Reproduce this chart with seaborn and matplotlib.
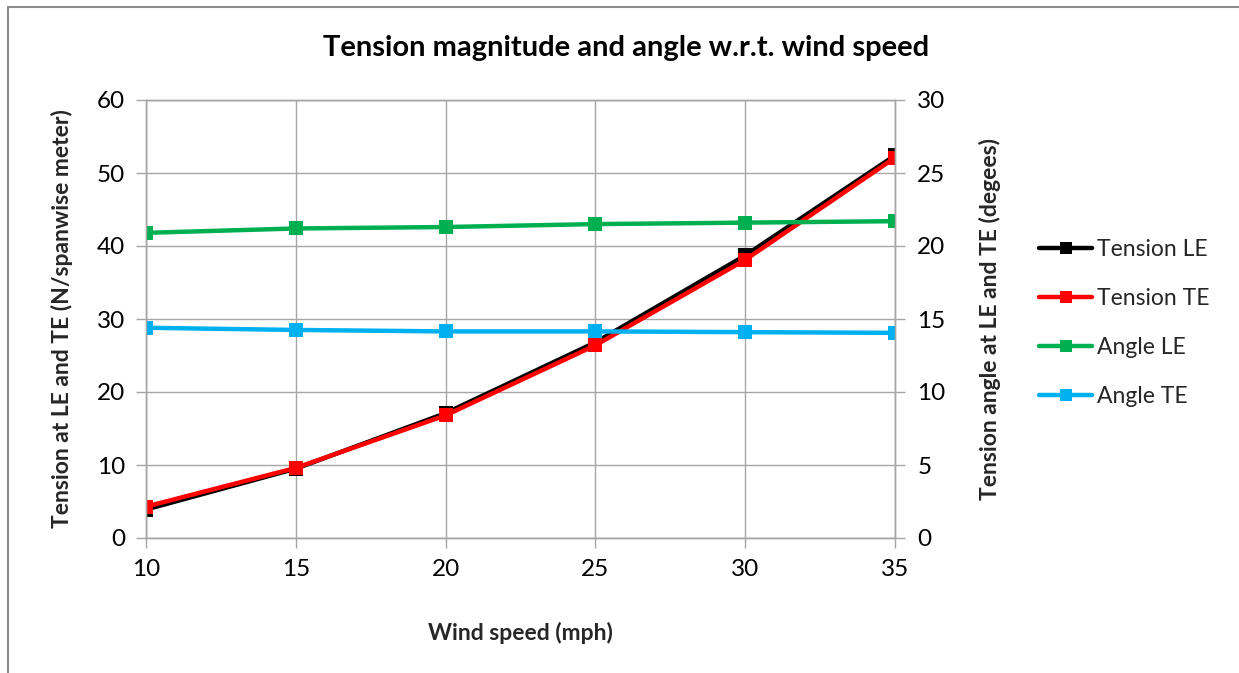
import matplotlib
matplotlib.use("Agg")
import matplotlib.pyplot as plt
import seaborn as sns
import pandas as pd
from matplotlib.lines import Line2D

wind_speed = [10, 15, 20, 25, 30, 35]
tension_le = [3.9, 9.5, 17.1, 26.8, 38.7, 52.4]
tension_te = [4.3, 9.6, 16.8, 26.4, 38.1, 52.1]
angle_le = [20.9, 21.2, 21.3, 21.5, 21.6, 21.7]
angle_te = [14.4, 14.25, 14.15, 14.15, 14.1, 14.05]

series_names = ["Tension LE", "Tension TE", "Angle LE", "Angle TE"]
colors = ["#000000", "#FF0000", "#00B050", "#00B0F0"]

sns.set_theme(style="white")
plt.rcParams["font.family"] = ["Lato", "DejaVu Sans"]

fig = plt.figure(figsize=(12.39, 6.73), dpi=100)
ax = fig.add_axes([146/1239, 1-538/673, (895-146)/1239, (538-100)/673])
ax2 = ax.twinx()

df_left = pd.DataFrame({"x": wind_speed * 2,
                        "y": tension_le + tension_te,
                        "s": [series_names[0]] * 6 + [series_names[1]] * 6})
df_right = pd.DataFrame({"x": wind_speed * 2,
                         "y": angle_le + angle_te,
                         "s": [series_names[2]] * 6 + [series_names[3]] * 6})

lw = 3.2
ms = 10
sns.lineplot(data=df_left, x="x", y="y", hue="s", palette=colors[:2], marker="s",
             markersize=ms, markeredgewidth=0, linewidth=lw, ax=ax, legend=False)
sns.lineplot(data=df_right, x="x", y="y", hue="s", palette=colors[2:], marker="s",
             markersize=ms, markeredgewidth=0, linewidth=lw, ax=ax2, legend=False)

grid_c = "#A6A6A6"
ax.set_xlim(10, 35)
ax.set_ylim(0, 60)
ax2.set_ylim(0, 30)
ax.set_xticks(wind_speed)
ax.set_yticks(range(0, 61, 10))
ax2.set_yticks(range(0, 31, 5))
ax.grid(True, color=grid_c, linewidth=1)
ax2.grid(False)
for a in (ax, ax2):
    for sp in a.spines.values():
        sp.set_color(grid_c)
        sp.set_linewidth(1)
    a.tick_params(colors="#000000", labelsize=17.5, length=7, width=1, color=grid_c,
                  direction="out")
ax.tick_params(axis="y", left=True, pad=8)
ax.tick_params(axis="x", bottom=True, pad=8)
ax2.tick_params(axis="y", right=True, pad=9)

lab_fs = 16.5
ax.set_xlabel("Wind speed (mph)", fontsize=lab_fs, fontweight="bold")
ax.set_ylabel("Tension at LE and TE (N/spanwise meter)", fontsize=lab_fs, fontweight="bold")
ax2.set_ylabel("Tension angle at LE and TE (degees)", fontsize=lab_fs, fontweight="bold")
ax.xaxis.set_label_coords((520-146)/749, (538-633)/438)
ax.xaxis.label.set_va("center")
ax.yaxis.set_label_coords((62-146)/749, 0.5)
ax.yaxis.label.set_va("center")
ax2.yaxis.set_label_coords((990-146)/749, 0.5)
ax2.yaxis.label.set_va("center")

fig.text(0.505, 1-48/673, "Tension magnitude and angle w.r.t. wind speed",
         ha="center", va="center", fontsize=21, fontweight="bold", color="#000000")

handles = [Line2D([0], [0], color=c, linewidth=lw, marker="s", markersize=ms*0.8,
                  markeredgewidth=0) for c in colors]
fig.legend(handles, series_names, loc="center left", bbox_to_anchor=(1028/1239, 1-323/673),
           frameon=False, fontsize=16.5, handlelength=2.3, handletextpad=0.2,
           labelspacing=1.22, borderpad=0)

# outer chart frame (left and top edges visible)
fig.add_artist(Line2D([8/1239, 8/1239], [0, 1-7/673], color="#8C8C8C", linewidth=1.5,
                      transform=fig.transFigure))
fig.add_artist(Line2D([8/1239, 1], [1-7/673, 1-7/673], color="#8C8C8C", linewidth=1.5,
                      transform=fig.transFigure))

fig.savefig("out.png", dpi=100)
